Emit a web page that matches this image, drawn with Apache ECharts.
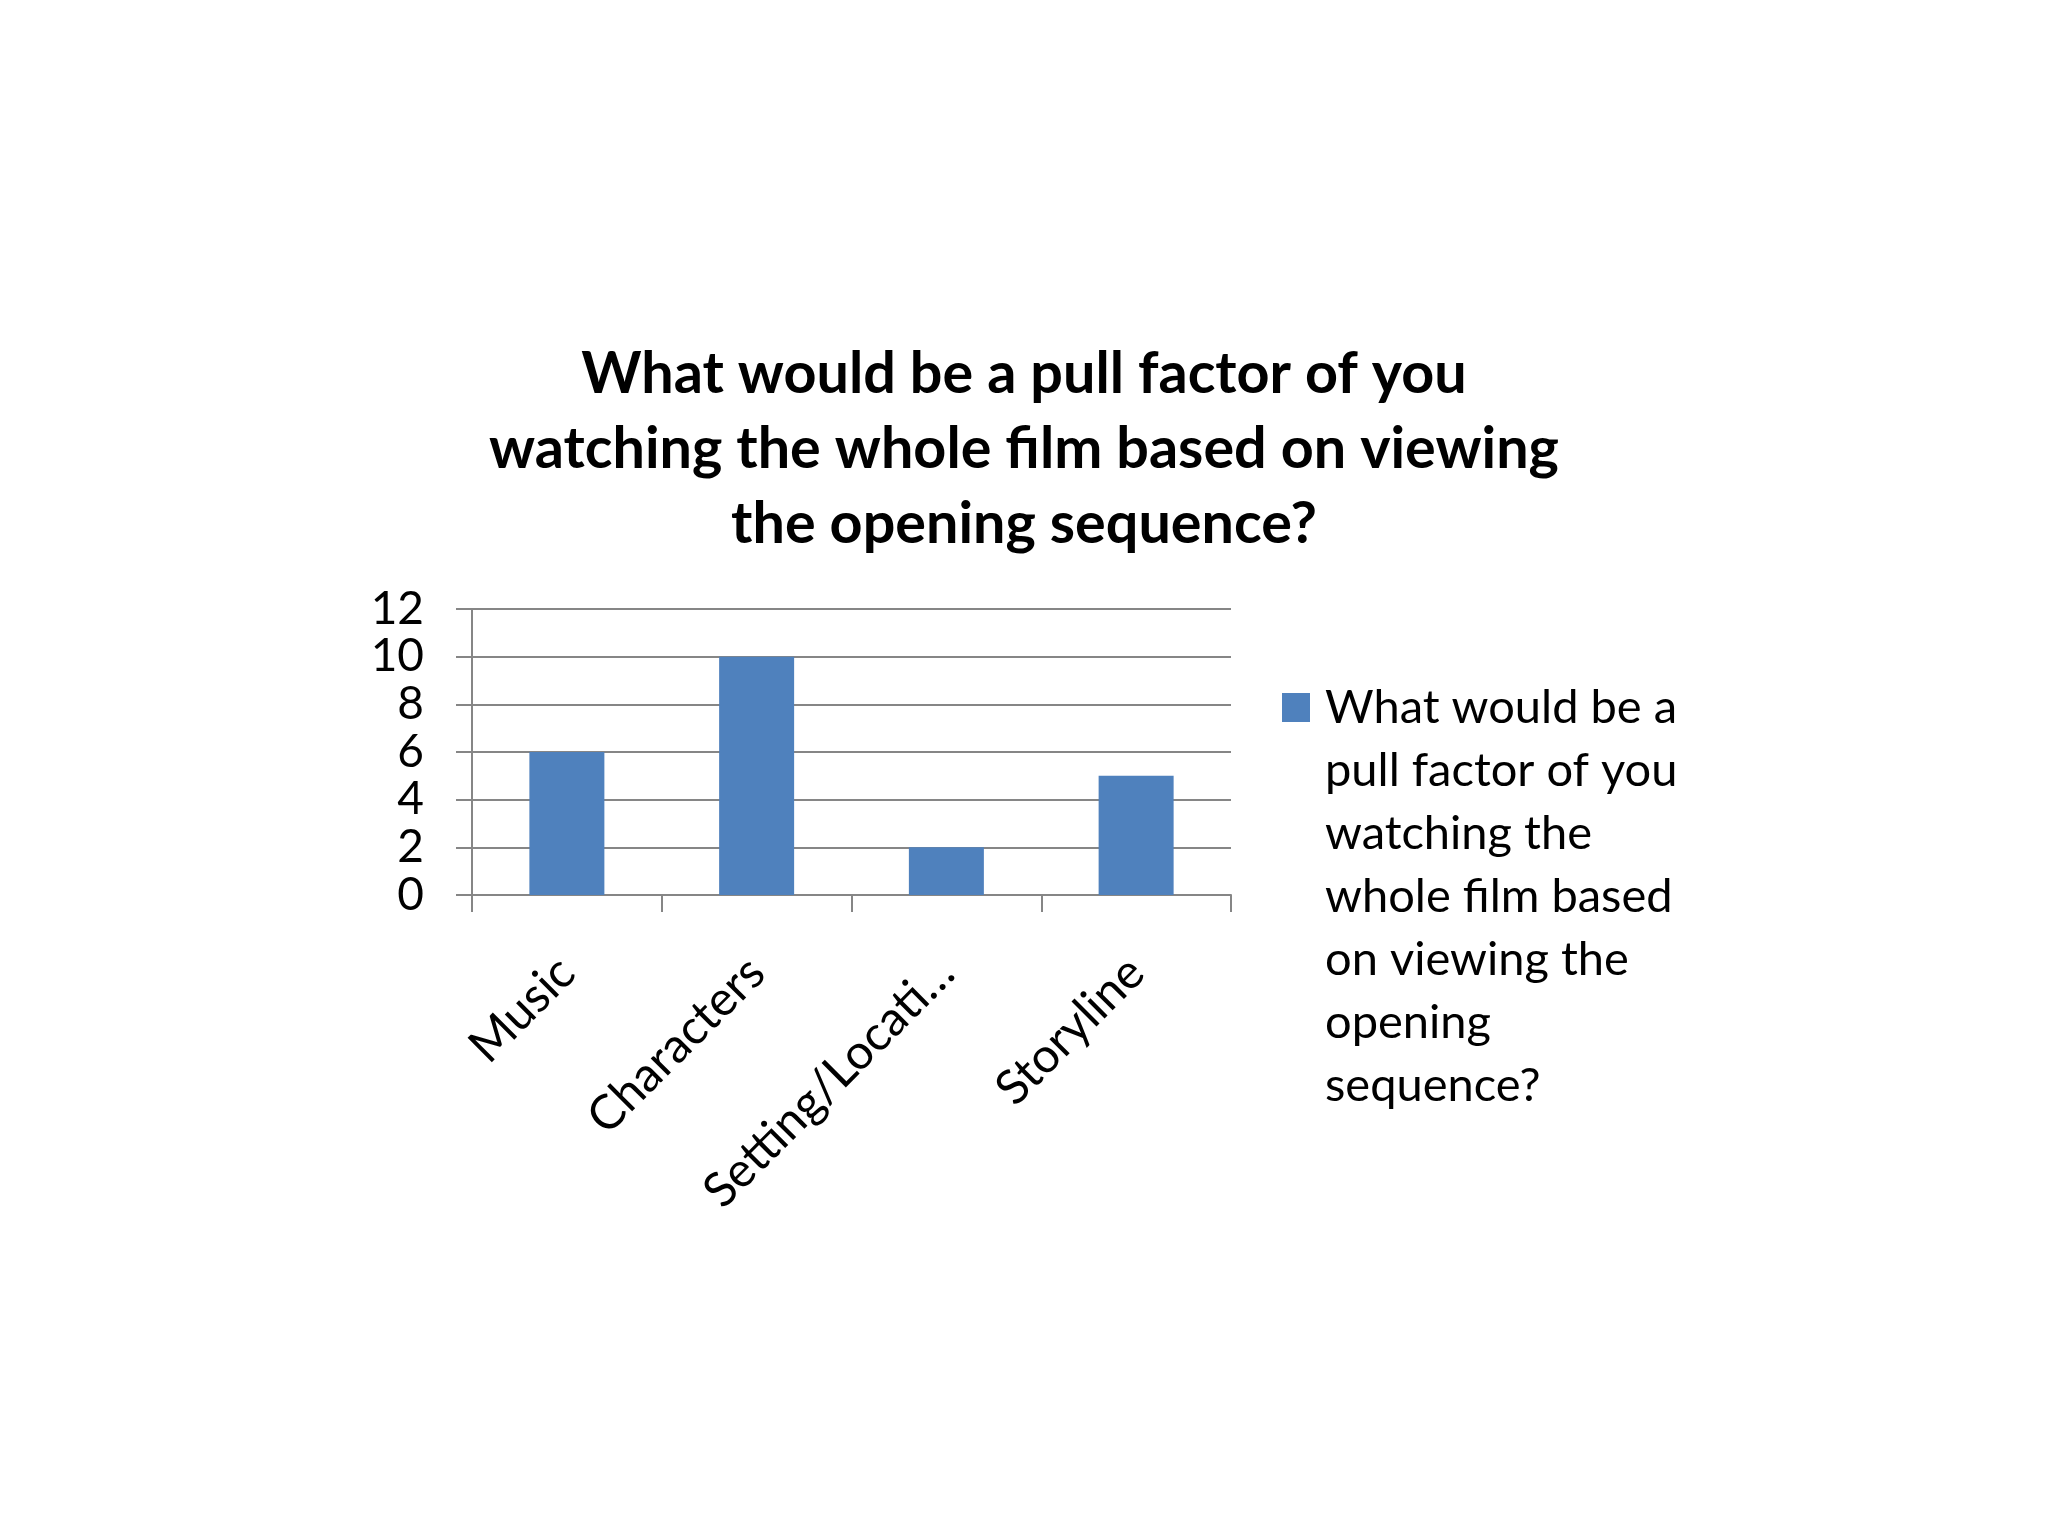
<!DOCTYPE html>
<html>
<head>
<meta charset="utf-8">
<title>Pull factor chart</title>
<script src="https://cdn.jsdelivr.net/npm/echarts@6/dist/echarts.min.js"></script>
<style>
  html, body { margin: 0; padding: 0; background: #fff; }
  #chart { width: 2048px; height: 1536px; }
</style>
</head>
<body>
<div id="chart"></div>
<script>
// chart data
var chartTitle = 'What would be a pull factor of you\nwatching the whole film based on viewing\nthe opening sequence?';
var seriesName = 'What would be a pull factor of you watching the whole film based on viewing the opening sequence?';
var categories = ['Music', 'Characters', 'Setting/Location', 'Storyline'];
var tickLabels = ['Music', 'Characters', 'Setting/Locati…', 'Storyline'];
var values = [6, 10, 2, 5];
var yTicks = [0, 2, 4, 6, 8, 10, 12];
// legend text as it wraps in the picture
var legendLines = ['What would be a', 'pull factor of you', 'watching the', 'whole film based', 'on viewing the', 'opening', 'sequence?'];

var font = 'Lato';
var legendLineHeight = 63;
var legendBlock = legendLines.length * legendLineHeight;
// marker square sits beside the first line; the path's extra move-to points
// stretch the icon box to the full height of the wrapped text
var legendIcon = 'path://M0,17H28V46H0ZM0,0M38,' + legendBlock;

var chart = echarts.init(document.getElementById('chart'));

var option = {
    backgroundColor: '#ffffff',
    animation: false,
    title: {
        text: chartTitle,
        left: 1024,
        top: 337,
        padding: 0,
        textAlign: 'center',
        textStyle: {
            fontFamily: font,
            fontWeight: 'bold',
            fontSize: 57.5,
            lineHeight: 75,
            color: '#000'
        }
    },
    legend: {
        data: [seriesName],
        orient: 'vertical',
        left: 1282,
        top: 676,
        padding: 0,
        itemWidth: 38,
        itemHeight: legendBlock,
        icon: legendIcon,
        formatter: function () {
            return legendLines.join('\n');
        },
        textStyle: {
            fontFamily: font,
            fontSize: 47,
            lineHeight: legendLineHeight,
            color: '#000'
        }
    },
    grid: {
        left: 472,
        right: 817,
        top: 609,
        bottom: 641,
        containLabel: false
    },
    xAxis: {
        type: 'category',
        data: categories,
        axisLine: { show: true, lineStyle: { color: '#868686', width: 2 } },
        axisTick: { show: true, length: 17, lineStyle: { color: '#868686', width: 2 } },
        axisLabel: {
            rotate: 45,
            margin: 70,
            fontFamily: font,
            fontSize: 48,
            color: '#000',
            interval: 0,
            formatter: function (val, idx) {
                return tickLabels[idx];
            }
        },
        splitLine: { show: false }
    },
    yAxis: {
        type: 'value',
        min: yTicks[0],
        max: yTicks[yTicks.length - 1],
        interval: yTicks[1] - yTicks[0],
        axisLine: { show: true, lineStyle: { color: '#868686', width: 2 } },
        axisTick: { show: true, length: 16, lineStyle: { color: '#868686', width: 2 } },
        axisLabel: {
            margin: 48,
            fontFamily: font,
            fontSize: 46,
            color: '#000'
        },
        splitLine: { show: true, lineStyle: { color: '#868686', width: 2 } }
    },
    series: [{
        name: seriesName,
        type: 'bar',
        data: values,
        barWidth: 75,
        itemStyle: { color: '#4F81BD' }
    }]
};

chart.setOption(option);
</script>
</body>
</html>
